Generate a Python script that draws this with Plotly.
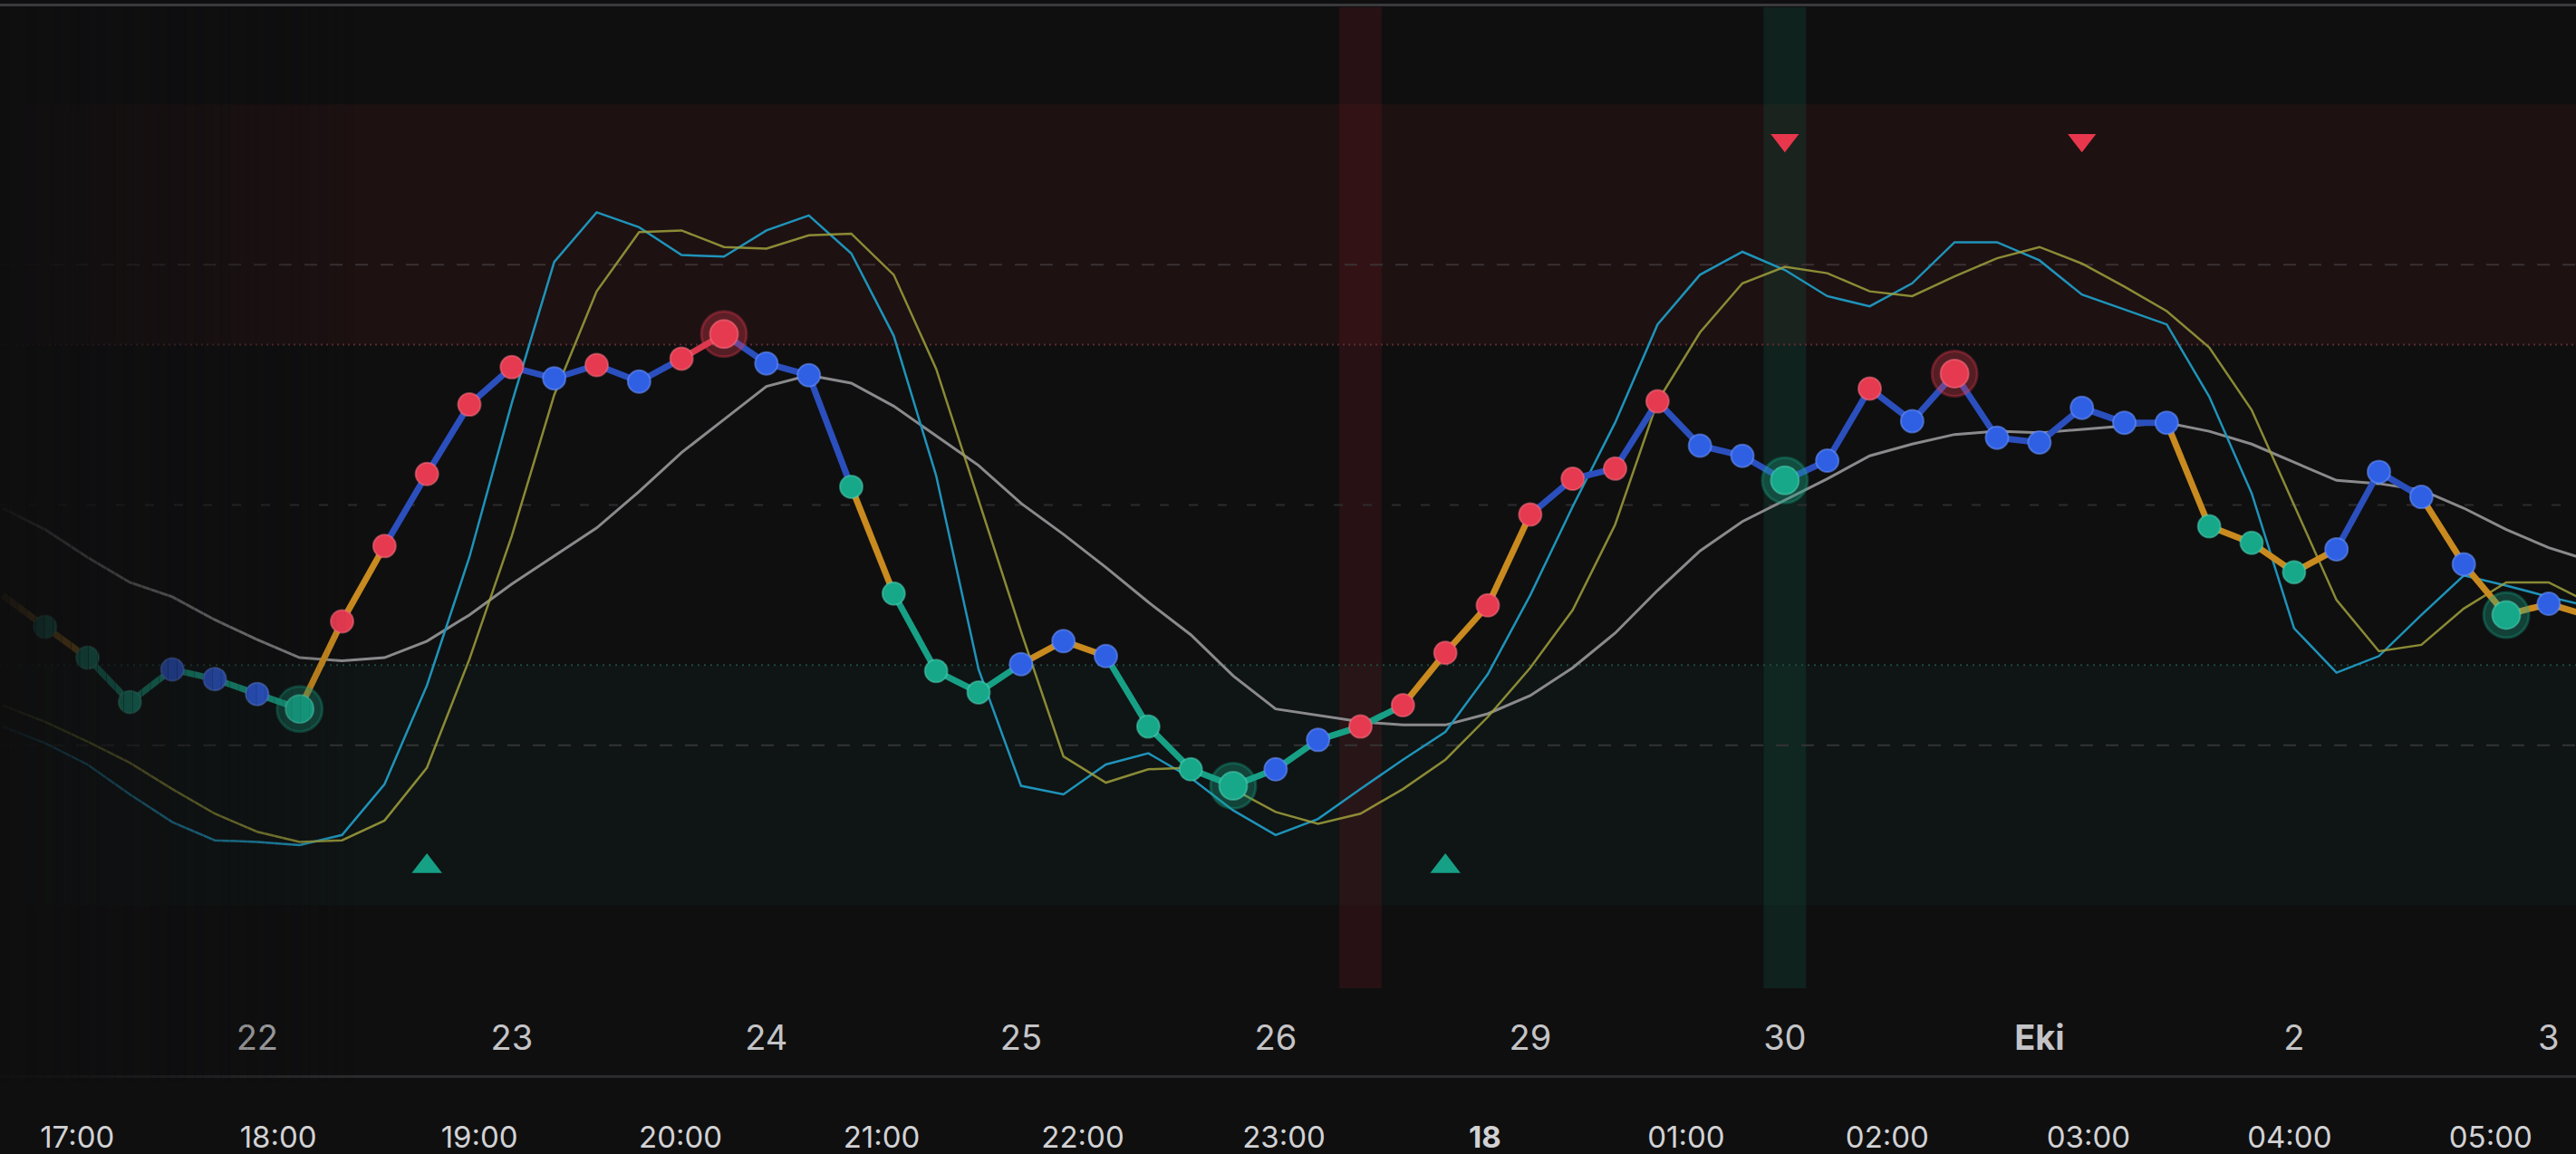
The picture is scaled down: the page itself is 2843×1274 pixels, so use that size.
import plotly.graph_objects as go

# ---------------- data (bar index -1 .. 60) ----------------
bars = list(range(-1, 61))

main_osc = [33.1, 27.2, 21.4, 13.1, 19.2, 17.4, 14.6, 11.8, 28.2, 42.3,
            55.8, 68.8, 75.8, 73.7, 76.2, 73.1, 77.4, 82.0, 76.5, 74.3,
            53.4, 33.4, 18.9, 14.9, 20.2, 24.5, 21.7, 8.5, 0.5, -2.6,
            0.5, 6.0, 8.5, 12.5, 22.3, 31.2, 48.2, 54.9, 56.8, 69.4,
            61.1, 59.2, 54.6, 58.3, 71.8, 65.7, 74.6, 62.6, 61.7, 68.2,
            65.4, 65.4, 46.0, 42.9, 37.4, 41.7, 56.2, 51.5, 38.9, 29.4,
            31.5, 29.1]

fast_line = [8.5, 5.4, 1.4, -4.2, -9.4, -12.8, -13.1, -13.7, -11.8, -2.3,
             16.2, 40.2, 69.1, 95.5, 104.8, 102.0, 96.8, 96.5, 101.4, 104.2,
             97.1, 81.7, 55.5, 19.2, -2.6, -4.2, 1.4, 3.5, -1.1, -7.2,
             -11.8, -8.8, -3.2, 2.3, 7.5, 18.3, 33.1, 49.7, 65.4, 83.8,
             93.1, 97.4, 94.0, 89.1, 87.2, 91.5, 99.2, 99.2, 95.8, 89.4,
             86.6, 83.8, 70.3, 52.2, 26.9, 18.6, 21.7, 29.4, 36.8, 34.9,
             32.8, 30.9]

slow_line = [12.5, 9.4, 5.7, 1.7, -3.2, -7.8, -11.2, -13.1, -12.8, -9.1,
             0.8, 21.1, 44.2, 70.6, 90.0, 101.1, 101.4, 98.3, 98.0, 100.5,
             100.8, 93.1, 75.5, 50.9, 26.3, 2.9, -2.0, 0.5, 0.8, -3.2,
             -7.5, -9.7, -7.8, -3.2, 2.3, 10.3, 19.5, 30.3, 46.3, 69.4,
             82.3, 91.5, 94.6, 93.4, 90.0, 89.1, 92.8, 96.2, 98.3, 95.2,
             90.9, 86.3, 79.5, 67.8, 50.0, 32.2, 22.6, 23.8, 30.6, 35.5,
             35.5, 31.5]

base_line = [49.4, 45.4, 40.2, 35.5, 32.8, 28.5, 24.8, 21.4, 20.8, 21.4,
             24.5, 29.4, 35.2, 40.5, 45.7, 52.5, 59.8, 66.0, 72.2, 74.3,
             72.8, 68.5, 62.9, 57.4, 50.3, 44.5, 38.3, 31.8, 25.7, 18.0,
             11.8, 10.6, 9.4, 8.8, 8.8, 10.9, 14.3, 19.5, 26.0, 34.0,
             41.4, 46.9, 50.9, 54.9, 59.2, 61.4, 63.2, 63.8, 63.5, 64.2,
             64.8, 65.4, 63.8, 61.4, 58.0, 54.6, 54.0, 52.8, 49.4, 45.4,
             42.0, 39.5]

# dot state for bars 0..59 (G green, B blue, R red)
dot_state = "GGGBBBGRRRRRBRBRRBBGGGGBBBGGGBBRRRRRRRRBBGBRBRBBBBBGGGBBBBGB"
# line state for segment starting at bars -1..59 (O orange)
seg_state = "OOGGGGGOOBBBBBBBRBBBOGGGOOGGGGGGGOOOBBBBBBBBBBBBBBBOOOOBBOOOO"
signal_bars = [6, 16, 28, 41, 45, 58]

buy_bars = [9, 33]
buy_level = -17.7
sell_bars = [41, 48]
sell_level = 118.3

red_band_bar = 31
green_band_bar = 41

upper_zone = (80, 125)
lower_zone = (-25, 20)

date_ticks = [5, 11, 17, 23, 29, 35, 41, 47, 53, 59]
date_labels = ["22", "23", "24", "25", "26", "29", "30", "<b>Eki</b>", "2", "3"]

hour_ticks = list(range(17, 30))
hour_labels = ["17:00", "18:00", "19:00", "20:00", "21:00", "22:00", "23:00",
               "<b>18</b>", "01:00", "02:00", "03:00", "04:00", "05:00"]

# ---------------- style ----------------
BG = "#0f0f10"
DOT = {"B": "#2f60e4", "G": "#17a88a", "R": "#e53a50"}
DOT_RIM = {"B": "rgba(110,150,255,0.55)", "G": "rgba(90,220,190,0.45)", "R": "rgba(255,120,135,0.5)"}
LINE = {"B": "#2b4fbd", "G": "#17a085", "O": "#c98a1f", "R": "#d93a4e"}
HALO = {"B": "rgba(47,96,228,0.33)", "G": "rgba(23,168,138,0.33)", "R": "rgba(229,58,80,0.33)"}

W, H = 2843, 1274
M_T, M_B = 8, 86
plot_bottom_px = 1091
y_dom0 = (H - M_B - plot_bottom_px) / (H - M_B - M_T)

fig = go.Figure()

def yv(b):
    return main_osc[b + 1]

# reference lines (gray, cyan, olive)
fig.add_trace(go.Scatter(x=bars, y=base_line, mode="lines",
                         line=dict(color="#8a8a8c", width=3), hoverinfo="skip"))
fig.add_trace(go.Scatter(x=bars, y=fast_line, mode="lines",
                         line=dict(color="#1f93b9", width=2.5), hoverinfo="skip"))
fig.add_trace(go.Scatter(x=bars, y=slow_line, mode="lines",
                         line=dict(color="rgba(160,160,60,0.85)", width=2.5), hoverinfo="skip"))

# main coloured segments
for c in "GOBR":
    xs, ys = [], []
    for k, s in zip(range(-1, 60), seg_state):
        if s == c:
            xs += [k, k + 1, None]
            ys += [yv(k), yv(k + 1), None]
    fig.add_trace(go.Scatter(x=xs, y=ys, mode="lines",
                             line=dict(color=LINE[c], width=7), hoverinfo="skip"))

# dots
for c in "BGR":
    xs = [b for b in range(60) if dot_state[b] == c and b not in signal_bars]
    fig.add_trace(go.Scatter(x=xs, y=[yv(b) for b in xs], mode="markers",
                             marker=dict(size=25, color=DOT[c],
                                         line=dict(color=DOT_RIM[c], width=2)),
                             hoverinfo="skip"))

# signal dots with halo
sx = signal_bars
fig.add_trace(go.Scatter(x=sx, y=[yv(b) for b in sx], mode="markers",
                         marker=dict(size=50, color=[HALO[dot_state[b]] for b in sx],
                                     line=dict(color=[HALO[dot_state[b]] for b in sx], width=3)),
                         hoverinfo="skip"))
fig.add_trace(go.Scatter(x=sx, y=[yv(b) for b in sx], mode="markers",
                         marker=dict(size=31, color=[DOT[dot_state[b]] for b in sx],
                                     line=dict(color=[DOT_RIM[dot_state[b]] for b in sx], width=2)),
                         hoverinfo="skip"))

# buy / sell triangles
fig.add_trace(go.Scatter(x=buy_bars, y=[buy_level] * len(buy_bars), mode="markers",
                         marker=dict(symbol="triangle-up", size=29, color="#16a085"),
                         hoverinfo="skip"))
fig.add_trace(go.Scatter(x=sell_bars, y=[sell_level] * len(sell_bars), mode="markers",
                         marker=dict(symbol="triangle-down", size=27, color="#e8374d"),
                         hoverinfo="skip"))

# invisible trace for the hour axis
fig.add_trace(go.Scatter(x=[hour_ticks[0]], y=[50], xaxis="x2", mode="markers",
                         marker=dict(opacity=0), hoverinfo="skip"))

shapes = []
# zones
shapes.append(dict(type="rect", xref="x domain", yref="y", x0=0, x1=1,
                   y0=upper_zone[0], y1=upper_zone[1], fillcolor="rgba(125,28,40,0.13)",
                   line=dict(width=0), layer="below"))
shapes.append(dict(type="rect", xref="x domain", yref="y", x0=0, x1=1,
                   y0=lower_zone[0], y1=lower_zone[1], fillcolor="rgba(20,110,80,0.06)",
                   line=dict(width=0), layer="below"))
# vertical highlight bands
shapes.append(dict(type="rect", xref="x", yref="y domain", x0=red_band_bar - 0.5,
                   x1=red_band_bar + 0.5, y0=0, y1=1, fillcolor="rgba(120,25,32,0.24)",
                   line=dict(width=0), layer="below"))
shapes.append(dict(type="rect", xref="x", yref="y domain", x0=green_band_bar - 0.5,
                   x1=green_band_bar + 0.5, y0=0, y1=1, fillcolor="rgba(20,120,90,0.18)",
                   line=dict(width=0), layer="below"))
# level lines
levels = [(95, "#3b3133", "14px,14px", 2), (80, "#5e2b31", "2px,4px", 2),
          (50, "#2c2c2e", "10px,22px", 2), (20, "#1d4a3d", "2px,5px", 2),
          (5, "#333335", "14px,14px", 2)]
for lv, col, dash, w in levels:
    shapes.append(dict(type="line", xref="x domain", yref="y", x0=0, x1=1, y0=lv, y1=lv,
                       line=dict(color=col, width=w, dash=dash), layer="below"))
# top rule
shapes.append(dict(type="line", xref="paper", yref="paper", x0=0, x1=1, y0=1.0022, y1=1.0022,
                   line=dict(color="#3a3a3c", width=3)))
# left-edge fade
N = 40
fade_w = 390 / W
for i in range(N):
    a = 0.97 * (1 - (i + 0.5) / N)
    shapes.append(dict(type="rect", xref="paper", yref="paper",
                       x0=i * fade_w / N, x1=(i + 1) * fade_w / N + 0.0002,
                       y0=-0.006, y1=1.0, fillcolor=BG, opacity=a,
                       line=dict(width=0), layer="above"))

unit_px = 25.83
x_lo = -27.4 / unit_px
x_hi = (1568 - 27.4) / unit_px
h_px = 122.42
h_lo = 17 - 47 / h_px
h_hi = 17 + (1568 - 47) / h_px

fig.update_layout(
    width=W, height=H,
    margin=dict(l=0, r=0, t=M_T, b=M_B, autoexpand=False),
    paper_bgcolor=BG, plot_bgcolor=BG,
    showlegend=False,
    shapes=shapes,
    font=dict(family="Inter, Roboto, sans-serif"),
    xaxis=dict(range=[x_lo, x_hi], tickmode="array", tickvals=date_ticks, ticktext=date_labels,
               showgrid=False, zeroline=False, showline=False, automargin=False,
               ticks="outside", ticklen=21, tickcolor="rgba(0,0,0,0)",
               tickfont=dict(size=38, color="#c4c4c6"), fixedrange=True),
    xaxis2=dict(range=[h_lo, h_hi], overlaying="x", anchor="free", position=0, side="bottom",
                tickmode="array", tickvals=hour_ticks, ticktext=hour_labels, automargin=False,
                showgrid=False, zeroline=False, showline=True, linecolor="#2b2b2d", linewidth=3,
                ticks="outside", ticklen=37, tickcolor="rgba(0,0,0,0)",
                tickfont=dict(size=33, color="#d2d2d4"), fixedrange=True),
    yaxis=dict(range=[-40.5, 143.2], domain=[y_dom0, 1], visible=False, automargin=False,
               showgrid=False, zeroline=False, fixedrange=True),
)

fig.write_html(
    "out.html",
    config={"displayModeBar": False},
    post_script="document.body.style.margin='0';document.body.style.background='#0f0f10';",
)
